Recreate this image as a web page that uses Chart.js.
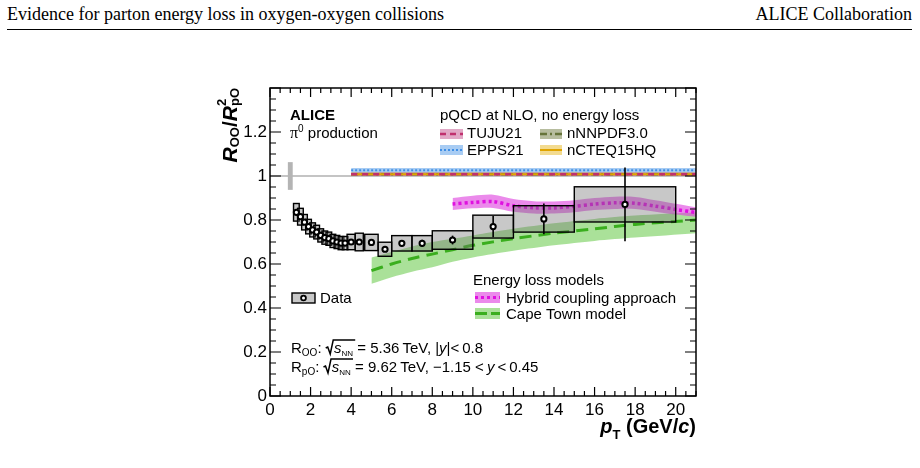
<!DOCTYPE html>
<html>
<head>
<meta charset="utf-8">
<script src="https://cdn.jsdelivr.net/npm/chart.js@4.4.1/dist/chart.umd.min.js"></script>
<style>
  html, body { margin: 0; padding: 0; background: #fff; }
  #wrap { position: relative; width: 920px; height: 468px; overflow: hidden; }
  .hdr { position: absolute; top: 4px; font: 18px "Liberation Serif", "Times New Roman", serif; color: #000; white-space: nowrap; }
  #hdrL { left: 7px; }
  #hdrR { right: 8px; }
  #rule { position: absolute; left: 7px; top: 29px; width: 905px; height: 1px; background: #000; }
  canvas { position: absolute; left: 0; top: 0; }
</style>
</head>
<body>
<div id="wrap">
  <div class="hdr" id="hdrL">Evidence for parton energy loss in oxygen-oxygen collisions</div>
  <div class="hdr" id="hdrR">ALICE Collaboration</div>
  <div id="rule"></div>
  <canvas id="chart" width="920" height="468"></canvas>
</div>
<script>
// ALICE pi0 R_OO / R_pO^2 data
const ptBins    = [1.3, 1.5, 1.7, 1.9, 2.1, 2.3, 2.5, 2.7, 2.9, 3.1, 3.3, 3.5, 3.7, 4.0, 4.4, 5.0, 5.67, 6.5, 7.5, 9.0, 11.0, 13.5, 17.5];
const binLow    = [1.16, 1.36, 1.56, 1.76, 1.96, 2.16, 2.36, 2.56, 2.76, 2.96, 3.16, 3.36, 3.56, 3.8, 4.2, 4.67, 5.33, 6, 7, 8, 10, 12, 15];
const binHigh   = [1.44, 1.64, 1.84, 2.04, 2.24, 2.44, 2.64, 2.84, 3.04, 3.24, 3.44, 3.64, 3.84, 4.2, 4.6, 5.33, 6, 7, 8, 10, 12, 15, 20];
const ratioVals = [0.835, 0.815, 0.79, 0.77, 0.755, 0.745, 0.73, 0.72, 0.715, 0.705, 0.70, 0.695, 0.695, 0.70, 0.70, 0.698, 0.667, 0.694, 0.694, 0.709, 0.770, 0.805, 0.871];
const statErr   = [0.006, 0.005, 0.005, 0.005, 0.005, 0.005, 0.005, 0.005, 0.005, 0.006, 0.006, 0.006, 0.007, 0.008, 0.008, 0.01, 0.012, 0.014, 0.016, 0.02, 0.048, 0.07, 0.168];
const sysErr    = [0.04, 0.038, 0.035, 0.033, 0.032, 0.031, 0.03, 0.03, 0.03, 0.03, 0.03, 0.03, 0.03, 0.035, 0.04, 0.037, 0.032, 0.035, 0.035, 0.042, 0.052, 0.06, 0.08];
const normPt = 1.0;
const normUnc = 0.063;

// axis tick labels
const xTickVals = [0, 2, 4, 6, 8, 10, 12, 14, 16, 18, 20];
const yTickVals = [0, 0.2, 0.4, 0.6, 0.8, 1, 1.2];

// Hybrid coupling approach
const hybridPt   = [9, 10, 11, 12, 13, 14, 15, 16, 17, 18, 19, 20, 21];
const hybridMid  = [0.873, 0.88, 0.884, 0.865, 0.856, 0.855, 0.862, 0.872, 0.878, 0.876, 0.863, 0.848, 0.834];
const hybridLow  = [0.845, 0.853, 0.855, 0.838, 0.83, 0.829, 0.835, 0.845, 0.85, 0.85, 0.838, 0.825, 0.815];
const hybridHigh = [0.90, 0.91, 0.915, 0.895, 0.885, 0.884, 0.89, 0.9, 0.906, 0.905, 0.89, 0.874, 0.858];

// Cape Town model
const capePt   = [5, 6, 7, 8, 9, 10, 12, 14, 16, 18, 21];
const capeMid  = [0.57, 0.60, 0.625, 0.645, 0.665, 0.685, 0.715, 0.74, 0.76, 0.78, 0.80];
const capeLow  = [0.51, 0.54, 0.565, 0.585, 0.61, 0.63, 0.66, 0.685, 0.705, 0.72, 0.74];
const capeHigh = [0.63, 0.655, 0.68, 0.70, 0.715, 0.73, 0.76, 0.785, 0.805, 0.82, 0.835];

// pQCD at NLO, no energy loss
const pqcdPt    = [4, 21];
const epps21Mid = [1.026, 1.026], epps21Low = [1.0, 1.0], epps21High = [1.036, 1.036];
const tujuMid   = [1.008, 1.008], tujuLow   = [1.0, 1.0], tujuHigh   = [1.016, 1.016];
const nnpdfMid  = [1.008, 1.008], nnpdfLow  = [1.0, 1.0], nnpdfHigh  = [1.016, 1.016];
const ncteqMid  = [1.008, 1.008], ncteqLow  = [1.0, 1.0], ncteqHigh  = [1.016, 1.016];

const SANS = '"Liberation Sans", Arial, Helvetica, sans-serif';
const COL = {
  hybBand: 'rgba(222,60,222,0.6)', hybLine: '#e010e0',
  capeBand: 'rgba(100,200,70,0.55)', capeLine: '#3aae1e',
  eppsBand: 'rgba(110,170,235,0.6)', eppsLine: '#3f8fe6',
  tujuBand: 'rgba(205,110,160,0.6)', tujuLine: '#c0306e',
  nnpdfBand: 'rgba(135,145,95,0.6)', nnpdfLine: '#66743a',
  ncteqBand: 'rgba(235,195,70,0.6)', ncteqLine: '#e0a400',
  box: 'rgba(110,110,110,0.38)'
};

function pts(xs, ys) { return xs.map((x, i) => ({ x: x, y: ys[i] })); }

function band(xs, lo, hi, color, order, tension) {
  return [
    { data: pts(xs, hi), borderWidth: 0, pointRadius: 0, fill: '+1', backgroundColor: color, order: order, tension: tension },
    { data: pts(xs, lo), borderWidth: 0, pointRadius: 0, fill: false, order: order, tension: tension }
  ];
}
function curve(xs, ys, color, width, dash, order, tension) {
  return { data: pts(xs, ys), borderColor: color, borderWidth: width, borderDash: dash, pointRadius: 0, fill: false, order: order, tension: tension };
}

const datasets = [];
datasets.push({ data: pts(ptBins, ratioVals), showLine: false, pointRadius: 2.6, pointBorderWidth: 2,
  pointBorderColor: '#000', pointBackgroundColor: '#fff', order: 0, isData: true });
datasets.push(...band(pqcdPt, epps21Low, epps21High, COL.eppsBand, 20, 0));
datasets.push(...band(pqcdPt, nnpdfLow, nnpdfHigh, COL.nnpdfBand, 19, 0));
datasets.push(...band(pqcdPt, ncteqLow, ncteqHigh, COL.ncteqBand, 18, 0));
datasets.push(...band(pqcdPt, tujuLow, tujuHigh, COL.tujuBand, 17, 0));
datasets.push(curve(pqcdPt, epps21Mid, COL.eppsLine, 2, [2, 2], 16, 0));
datasets.push(curve(pqcdPt, nnpdfMid, COL.nnpdfLine, 2.5, [7, 3, 2, 3], 15, 0));
datasets.push(curve(pqcdPt, ncteqMid, COL.ncteqLine, 2, [], 14, 0));
datasets.push(curve(pqcdPt, tujuMid, COL.tujuLine, 2.5, [6, 5], 13, 0));
datasets.push(...band(capePt, capeLow, capeHigh, COL.capeBand, 12, 0.3));
datasets.push(curve(capePt, capeMid, COL.capeLine, 3, [12, 7], 11, 0.3));
datasets.push(...band(hybridPt, hybridLow, hybridHigh, COL.hybBand, 10, 0.3));
datasets.push(curve(hybridPt, hybridMid, COL.hybLine, 3.5, [3, 3], 9, 0.3));

// draw text made of pieces (sub/superscripts)
function rich(ctx, x, y, parts, align) {
  const fnt = p => (p.it ? 'italic ' : '') + (p.b ? 'bold ' : '') + p.s + 'px ' + (p.fam || SANS);
  let w = 0;
  parts.forEach(p => { ctx.font = fnt(p); if (!p.noAdv) w += ctx.measureText(p.t).width; });
  let cx = align === 'right' ? x - w : x;
  ctx.textAlign = 'left';
  ctx.textBaseline = 'alphabetic';
  parts.forEach(p => {
    ctx.font = fnt(p);
    const pw = ctx.measureText(p.t).width;
    ctx.fillText(p.t, cx, y + (p.dy || 0));
    if (p.root) {
      // radical sign over the following pieces
      ctx.save();
      ctx.lineWidth = 1.5;
      ctx.beginPath();
      ctx.moveTo(cx, y - 5);
      ctx.lineTo(cx + 2, y - 6);
      ctx.lineTo(cx + 4.5, y + 1);
      ctx.lineTo(cx + 7.5, y - 13);
      ctx.lineTo(cx + 7.5 + p.root, y - 13);
      ctx.stroke();
      ctx.restore();
    }
    if (!p.noAdv) cx += pw;
  });
  return w;
}

function swatch(ctx, x, y, w, h, fillCol, lineCol, lw, dash) {
  ctx.fillStyle = fillCol;
  ctx.fillRect(x, y, w, h);
  ctx.save();
  ctx.strokeStyle = lineCol;
  ctx.lineWidth = lw;
  ctx.setLineDash(dash);
  ctx.beginPath();
  ctx.moveTo(x, y + h / 2);
  ctx.lineTo(x + w, y + h / 2);
  ctx.stroke();
  ctx.restore();
}

const dataPlugin = {
  id: 'dataPlugin',
  beforeDatasetsDraw(chart) {
    const { ctx, chartArea: a, scales: { x, y } } = chart;
    ctx.save();
    // reference line at unity
    ctx.strokeStyle = '#8a8a8a';
    ctx.lineWidth = 1.2;
    ctx.beginPath();
    ctx.moveTo(a.left, y.getPixelForValue(1));
    ctx.lineTo(a.right, y.getPixelForValue(1));
    ctx.stroke();
    // normalisation uncertainty
    ctx.fillStyle = '#b4b4b4';
    const nx0 = x.getPixelForValue(normPt - 0.12), nx1 = x.getPixelForValue(normPt + 0.12);
    const ny0 = y.getPixelForValue(1 + normUnc), ny1 = y.getPixelForValue(1 - normUnc);
    ctx.fillRect(nx0, ny0, nx1 - nx0, ny1 - ny0);
    ctx.restore();
  },
  beforeDatasetDraw(chart, args) {
    if (!chart.data.datasets[args.index].isData) return;
    const { ctx, scales: { x, y } } = chart;
    ctx.save();
    ctx.lineWidth = 1.4;
    ctx.strokeStyle = '#000';
    ptBins.forEach((p, i) => {
      const x0 = x.getPixelForValue(binLow[i]), x1 = x.getPixelForValue(binHigh[i]);
      const y0 = y.getPixelForValue(ratioVals[i] + sysErr[i]), y1 = y.getPixelForValue(ratioVals[i] - sysErr[i]);
      ctx.fillStyle = COL.box;
      ctx.fillRect(x0, y0, x1 - x0, y1 - y0);
      ctx.strokeRect(x0, y0, x1 - x0, y1 - y0);
    });
    ctx.lineWidth = 1.6;
    ptBins.forEach((p, i) => {
      const px = x.getPixelForValue(p);
      ctx.beginPath();
      ctx.moveTo(px, y.getPixelForValue(ratioVals[i] + statErr[i]));
      ctx.lineTo(px, y.getPixelForValue(ratioVals[i] - statErr[i]));
      ctx.stroke();
    });
    ctx.restore();
  },
  afterDraw(chart) {
    const { ctx, chartArea: a, scales: { x, y } } = chart;
    ctx.save();
    // frame
    ctx.strokeStyle = '#000';
    ctx.lineWidth = 1.5;
    ctx.strokeRect(a.left, a.top, a.right - a.left, a.bottom - a.top);
    // inside ticks on all four sides
    ctx.lineWidth = 1.2;
    ctx.beginPath();
    for (let v = 0; v <= 21.001; v += 0.5) {
      const px = x.getPixelForValue(v);
      const len = Math.abs(v % 2) < 1e-6 ? 9 : 5;
      ctx.moveTo(px, a.bottom); ctx.lineTo(px, a.bottom - len);
      ctx.moveTo(px, a.top); ctx.lineTo(px, a.top + len);
    }
    for (let k = 0; k <= 28; k++) {
      const v = k * 0.05;
      const py = y.getPixelForValue(v);
      const len = k % 4 === 0 ? 11 : 6;
      ctx.moveTo(a.left, py); ctx.lineTo(a.left + len, py);
      ctx.moveTo(a.right, py); ctx.lineTo(a.right - len, py);
    }
    ctx.stroke();

    ctx.fillStyle = '#000';
    // upper left label
    rich(ctx, 290, 120, [{ t: 'ALICE', s: 15, b: true }]);
    rich(ctx, 290, 138, [
      { t: 'π', s: 16, fam: '"Liberation Serif", serif' },
      { t: '0', s: 10, dy: -6 },
      { t: ' production', s: 15 }
    ]);

    // pQCD legend
    rich(ctx, 440, 120, [{ t: 'pQCD at NLO, no energy loss', s: 15 }]);
    swatch(ctx, 440, 129, 23, 10, COL.tujuBand, COL.tujuLine, 2.5, [6, 4]);
    swatch(ctx, 440, 145, 23, 10, COL.eppsBand, COL.eppsLine, 2, [2, 2]);
    swatch(ctx, 540, 129, 22, 10, COL.nnpdfBand, COL.nnpdfLine, 2.5, [7, 3, 2, 3]);
    swatch(ctx, 540, 145, 22, 10, COL.ncteqBand, COL.ncteqLine, 2, []);
    ctx.fillStyle = '#000';
    rich(ctx, 467, 138, [{ t: 'TUJU21', s: 15 }]);
    rich(ctx, 467, 155, [{ t: 'EPPS21', s: 15 }]);
    rich(ctx, 567, 138, [{ t: 'nNNPDF3.0', s: 15 }]);
    rich(ctx, 567, 155, [{ t: 'nCTEQ15HQ', s: 15 }]);

    // energy loss legend
    rich(ctx, 473, 285, [{ t: 'Energy loss models', s: 15 }]);
    swatch(ctx, 475, 292, 25, 11, COL.hybBand, COL.hybLine, 3, [3, 3]);
    swatch(ctx, 475, 308, 25, 11, COL.capeBand, COL.capeLine, 3, [12, 4]);
    ctx.fillStyle = '#000';
    rich(ctx, 506, 303, [{ t: 'Hybrid coupling approach', s: 15 }]);
    rich(ctx, 506, 319, [{ t: 'Cape Town model', s: 15 }]);

    // data legend
    ctx.fillStyle = COL.box;
    ctx.fillRect(292, 293, 23, 10);
    ctx.lineWidth = 1.4;
    ctx.strokeRect(292, 293, 23, 10);
    ctx.beginPath();
    ctx.arc(303.5, 298, 2.4, 0, Math.PI * 2);
    ctx.fillStyle = '#fff';
    ctx.fill();
    ctx.lineWidth = 1.8;
    ctx.stroke();
    ctx.fillStyle = '#000';
    rich(ctx, 320, 303, [{ t: 'Data', s: 15 }]);

    // collision systems
    rich(ctx, 291, 353, [
      { t: 'R', s: 15 }, { t: 'OO', s: 10, dy: 3 }, { t: ': ', s: 15 },
      { t: '', s: 15, root: 22 }, { t: '  ', s: 15 },
      { t: 's', s: 15, it: true }, { t: 'NN', s: 8, dy: 3 },
      { t: ' = 5.36\u2009TeV, |', s: 15 }, { t: 'y', s: 15, it: true }, { t: '|<\u20090.8', s: 15 }
    ]);
    rich(ctx, 291, 372, [
      { t: 'R', s: 15 }, { t: 'pO', s: 10, dy: 3 }, { t: ': ', s: 15 },
      { t: '', s: 15, root: 22 }, { t: '  ', s: 15 },
      { t: 's', s: 15, it: true }, { t: 'NN', s: 8, dy: 3 },
      { t: ' = 9.62\u2009TeV, \u22121.15 <\u2009', s: 15 }, { t: 'y', s: 15, it: true }, { t: '\u2009<\u20090.45', s: 15 }
    ]);

    // axis titles
    rich(ctx, a.right, 433, [
      { t: 'p', s: 20, b: true, it: true }, { t: 'T', s: 13, b: true, dy: 6 },
      { t: ' (GeV/', s: 20, b: true }, { t: 'c', s: 20, b: true, it: true }, { t: ')', s: 20, b: true }
    ], 'right');
    ctx.translate(237, a.top);
    ctx.rotate(-Math.PI / 2);
    rich(ctx, 0, 0, [
      { t: 'R', s: 21, b: true, it: true }, { t: 'OO', s: 13, b: true, dy: 2 },
      { t: '/', s: 21, b: true }, { t: 'R', s: 21, b: true, it: true },
      { t: '2', s: 13, b: true, dy: -11, noAdv: true }, { t: 'pO', s: 13, b: true, dy: 2 }
    ], 'right');
    ctx.restore();
  }
};

Chart.defaults.font.family = SANS;
Chart.defaults.color = '#000';

new Chart(document.getElementById('chart'), {
  type: 'line',
  data: { datasets: datasets },
  options: {
    responsive: false,
    animation: false,
    events: [],
    layout: { padding: { top: 88, right: 224, left: 0, bottom: 0 } },
    plugins: { legend: { display: false }, tooltip: { enabled: false } },
    scales: {
      x: {
        type: 'linear', min: 0, max: 21,
        afterFit: s => { s.height = 72; },
        afterBuildTicks: s => { s.ticks = xTickVals.map(v => ({ value: v })); },
        grid: { display: false, drawTicks: false },
        border: { display: false },
        ticks: { autoSkip: false, maxRotation: 0, padding: 4, font: { size: 17 }, color: '#000' }
      },
      y: {
        type: 'linear', min: 0, max: 1.4,
        afterFit: s => { s.width = 270; },
        afterBuildTicks: s => { s.ticks = yTickVals.map(v => ({ value: v })); },
        grid: { display: false, drawTicks: false },
        border: { display: false },
        ticks: { autoSkip: false, padding: 3, font: { size: 17 }, color: '#000',
          callback: v => String(Math.round(v * 10) / 10) }
      }
    }
  },
  plugins: [dataPlugin]
});
</script>
</body>
</html>
